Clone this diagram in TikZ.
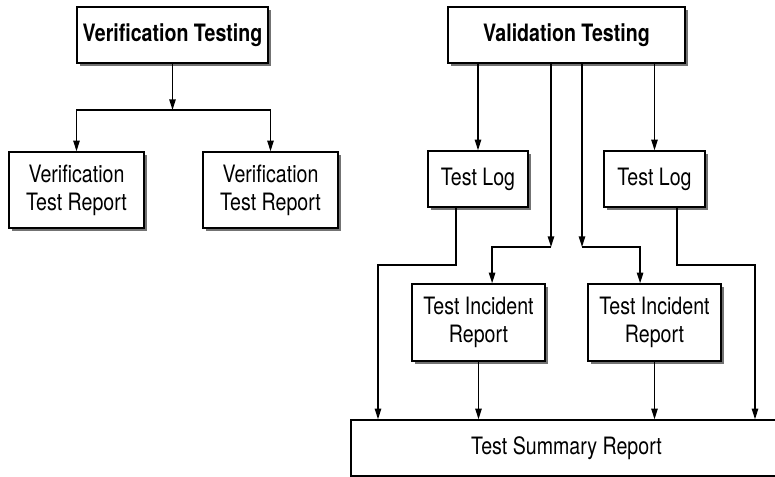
\documentclass[tikz,border=0pt]{standalone}
\usepackage{fontspec}
\setmainfont{TeX Gyre Heros}[FakeStretch=0.82]
\usetikzlibrary{arrows.meta, shadows}

\begin{document}
\begin{tikzpicture}[
    x=0.025cm, y=-0.025cm,
    box/.style    = {rectangle, draw, line width=1pt, fill=white, align=center,
                     inner sep=0pt, font=\fontsize{17}{20}\selectfont,
                     drop shadow={shadow xshift=0.075cm, shadow yshift=-0.075cm,
                                  fill=black!55, opacity=1}},
    head/.style   = {box, font=\fontsize{17}{20}\selectfont\bfseries},
    plain/.style  = {rectangle, draw, line width=1pt, fill=white,
                     inner sep=0pt, font=\fontsize{17}{20}\selectfont},
    arrow/.style  = {-{Triangle[length=7.5pt, width=4.5pt]}, line width=1pt},
  ]
  \clip (0,0) rectangle (775,477);

  % verification side
  \node[head, minimum width=4.775cm, minimum height=1.4cm]
        (verif) at (172.5,35) {Verification Testing};
  \node[box, minimum width=3.375cm, minimum height=1.9cm]
        (vrep1) at (76.5,190) {Verification\\Test Report};
  \node[box, minimum width=3.375cm, minimum height=1.9cm]
        (vrep2) at (270.5,190) {Verification\\Test Report};

  % validation side
  \node[head, minimum width=5.925cm, minimum height=1.4cm]
        (valid) at (566.5,35) {Validation Testing};
  \node[box, minimum width=2.5cm, minimum height=1.4cm]
        (log1) at (478,179) {Test Log};
  \node[box, minimum width=2.525cm, minimum height=1.4cm]
        (log2) at (654.5,179) {Test Log};
  \node[box, minimum width=3.325cm, minimum height=1.925cm]
        (inc1) at (478.5,322.5) {Test Incident\\Report};
  \node[box, minimum width=3.325cm, minimum height=1.925cm]
        (inc2) at (654.5,322.5) {Test Incident\\Report};
  \node[plain, minimum width=10.775cm, minimum height=1.4cm]
        (sum) at (566.5,448) {Test Summary Report};

  \coordinate (vsplit) at (172.5,110);
  \coordinate (lsplit) at (551,247);
  \coordinate (rsplit) at (582,247);
  \coordinate (lbend)  at (378,265);
  \coordinate (rbend)  at (755,265);

  \draw[arrow] (verif) -- (vsplit);
  \draw[arrow] (vsplit) -| (vrep1.north);
  \draw[arrow] (vsplit) -| (vrep2.north);

  \draw[arrow] (valid.south -| log1.north) -- (log1.north);
  \draw[arrow] (valid.south -| log2.north) -- (log2.north);
  \draw[arrow] (valid.south -| lsplit) -- (lsplit);
  \draw[arrow] (valid.south -| rsplit) -- (rsplit);
  \draw[arrow] (lsplit) -| ([xshift=0.34cm]inc1.north);
  \draw[arrow] (rsplit) -| ([xshift=-0.36cm]inc2.north);

  \draw[arrow] ([xshift=-0.55cm]log1.south) |- (lbend) -- (lbend |- sum.north);
  \draw[arrow] ([xshift=0.56cm]log2.south) |- (rbend) -- (rbend |- sum.north);
  \draw[arrow] (inc1.south) -- (inc1.south |- sum.north);
  \draw[arrow] (inc2.south) -- (inc2.south |- sum.north);
\end{tikzpicture}
\end{document}
